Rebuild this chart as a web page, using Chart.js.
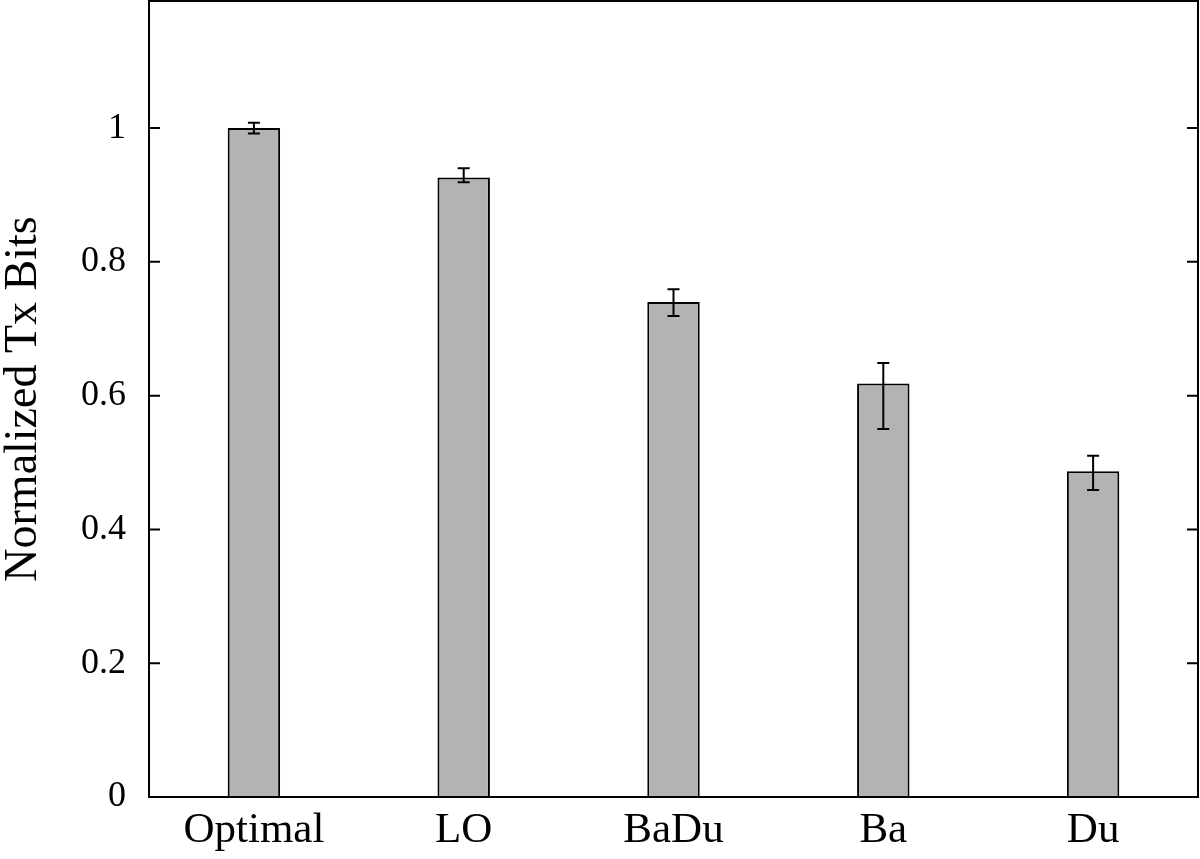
<!DOCTYPE html>
<html>
<head>
<meta charset="utf-8">
<script src="https://cdn.jsdelivr.net/npm/chart.js@4/dist/chart.umd.min.js"></script>
<style>
  html, body { margin: 0; padding: 0; background: #fff; }
  #wrap { width: 1200px; height: 859px; }
</style>
</head>
<body>
<div id="wrap"><canvas id="barChart"></canvas></div>
<script>
"use strict";

const categories = ["Optimal", "LO", "BaDu", "Ba", "Du"];
const tx_bits = [1.0, 0.926, 0.740, 0.618, 0.487];
const err_low = [0.992, 0.919, 0.719, 0.550, 0.459];
const err_high = [1.008, 0.940, 0.759, 0.649, 0.510];
const y_ticks = [0, 0.2, 0.4, 0.6, 0.8, 1];

// inner ticks + full frame, like gnuplot
const framePlugin = {
	id: "frame",
	afterDatasetsDraw(chart) {
		let ctx = chart.ctx;
		let area = chart.chartArea;
		let y = chart.scales.y;
		ctx.save();
		ctx.strokeStyle = "#000";
		ctx.lineWidth = 2;
		for (let v of y_ticks) {
			let py = y.getPixelForValue(v);
			ctx.beginPath();
			ctx.moveTo(area.left, py);
			ctx.lineTo(area.left + 11, py);
			ctx.moveTo(area.right, py);
			ctx.lineTo(area.right - 11, py);
			ctx.stroke();
		}
		ctx.strokeRect(area.left, area.top, area.right - area.left, area.bottom - area.top);
		ctx.restore();
	},
};

const errorBarPlugin = {
	id: "errorBars",
	afterDatasetsDraw(chart) {
		let ctx = chart.ctx;
		let x = chart.scales.x;
		let y = chart.scales.y;
		ctx.save();
		ctx.strokeStyle = "#000";
		ctx.lineWidth = 2;
		for (let i = 0; i < categories.length; i++) {
			let px = x.getPixelForValue(i);
			let lo = y.getPixelForValue(err_low[i]);
			let hi = y.getPixelForValue(err_high[i]);
			ctx.beginPath();
			ctx.moveTo(px, lo);
			ctx.lineTo(px, hi);
			ctx.moveTo(px - 6, lo);
			ctx.lineTo(px + 6, lo);
			ctx.moveTo(px - 6, hi);
			ctx.lineTo(px + 6, hi);
			ctx.stroke();
		}
		ctx.restore();
	},
};

let ctx = document.getElementById("barChart").getContext("2d");
new Chart(ctx, {
	type: "bar",
	data: {
		labels: categories,
		datasets: [
			{
				label: "Normalized Tx Bits",
				data: tx_bits,
				backgroundColor: "#b3b3b3",
				borderColor: "#000",
				borderWidth: 2,
				barPercentage: 0.25,
				categoryPercentage: 1.0,
			},
		],
	},
	options: {
		responsive: true,
		maintainAspectRatio: false,
		animation: false,
		layout: { padding: { top: 1, right: 2, bottom: 0, left: 0 } },
		plugins: {
			legend: { display: false },
			tooltip: { enabled: false },
		},
		scales: {
			x: {
				grid: { display: false, drawTicks: false },
				border: { display: false },
				ticks: {
					color: "#000",
					padding: 8,
					maxRotation: 0,
					font: { family: "Liberation Serif", size: 43 },
				},
				afterFit(scale) {
					scale.height = 62;
					scale.paddingLeft = 0;
					scale.paddingRight = 0;
				},
			},
			y: {
				min: 0,
				max: 1.19,
				grid: { display: false, drawTicks: false },
				border: { display: false },
				ticks: {
					stepSize: 0.2,
					includeBounds: false,
					color: "#000",
					padding: 23,
					font: { family: "Liberation Serif", size: 36 },
					callback: (v) => String(Math.round(v * 10) / 10),
				},
				title: {
					display: true,
					text: "Normalized Tx Bits",
					color: "#000",
					padding: 0,
					font: { family: "Liberation Serif", size: 46, lineHeight: 1.05 },
				},
				afterFit(scale) {
					scale.width = 149;
					scale.paddingTop = 0;
					scale.paddingBottom = 0;
				},
			},
		},
	},
	plugins: [framePlugin, errorBarPlugin],
});
</script>
</body>
</html>
